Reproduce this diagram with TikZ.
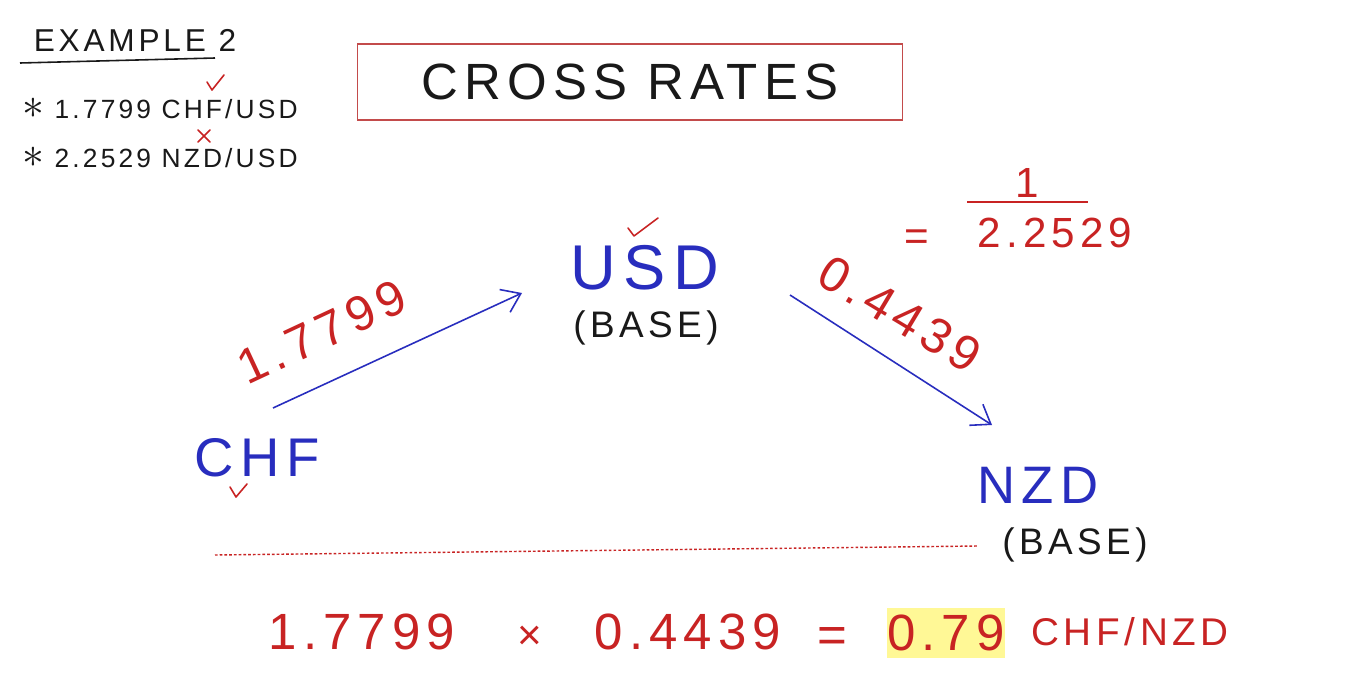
\documentclass[tikz,border=0pt]{standalone}
\usepackage{fontspec}
\setmainfont{Liberation Sans}
\newfontfamily\handfont[LetterSpace=12]{Liberation Sans}
\usetikzlibrary{arrows.meta}
\definecolor{ink}{RGB}{25,25,25}
\definecolor{pen}{RGB}{200,35,35}
\definecolor{cur}{RGB}{40,45,190}
\definecolor{frame}{RGB}{195,75,75}
\definecolor{marker}{RGB}{255,248,150}
\newcommand{\fs}[1]{\handfont\fontsize{#1}{#1}\selectfont}
\newcommand{\bullstar}{{\fontsize{24}{24}\selectfont$\ast$}}

\begin{document}
\begin{tikzpicture}[
  x=0.2mm,y=-0.2mm,
  hand/.style={inner sep=0pt,anchor=center},
  note/.style={hand,text=ink,font=\fs{15},anchor=west},
  ccy/.style={hand,text=cur},
  rate/.style={hand,text=pen},
  base/.style={hand,text=ink,font=\fs{21}},
  arr/.style={-{Straight Barb[length=3.5mm,width=5mm]},cur,line width=0.9pt},
  tick/.style={pen,line width=0.9pt,line cap=round,line join=round}]
  \useasboundingbox[fill=white] (0,0) rectangle (1358,698);
  % heading and given quotes
  \node[hand,text=ink,font=\fs{18}] (ex) at (135,40) {EXAMPLE 2};
  \draw[ink,line width=0.9pt] (20,63) -- (215,58);
  \node[note] (q1) at (22,108) {\bullstar\ 1.7799 CHF/USD};
  \node[note] (q2) at (22,157) {\bullstar\ 2.2529 NZD/USD};
  \draw[tick] (207,82) -- (212,90) -- (224,75);
  \draw[tick] (198,130) -- (210,142) (210,130) -- (198,142);
  \node[draw=frame,line width=1pt,minimum width=109mm,minimum height=15.2mm,hand,
    text=ink,font=\fs{29}] (title) at (630,82) {CROSS RATES};
  % currencies
  \node[ccy,font=\fs{36}] (usd) at (645,268) {USD};
  \node[base] (usdb) at (646,328) {(BASE)};
  \draw[tick] (628,228) -- (634,236) -- (658,218);
  \node[ccy,font=\fs{31}] (chf) at (257,458) {CHF};
  \draw[tick] (230,487) -- (236,497) -- (247,484);
  \node[ccy,font=\fs{30}] (nzd) at (1038,485) {NZD};
  \node[base] (nzdb) at (1075,545) {(BASE)};
  % rates along the arrows
  \coordinate (chfout) at (273,408);
  \coordinate (usdin) at (522,293);
  \coordinate (usdout) at (790,295);
  \coordinate (nzdin) at (992,425);
  \draw[arr] (chfout) -- (usdin);
  \draw[arr] (usdout) -- (nzdin);
  \node[rate,font=\fs{28},rotate=25] (r1) at (322,332) {1.7799};
  \node[rate,font=\fs{28},rotate=-31] (r2) at (900,314) {0.4439};
  \node[rate,font=\fs{24}] (eq1) at (917,240) {=};
  \node[rate,font=\fs{24}] (one) at (1027,183) {1};
  \draw[pen,line width=1pt] (967,202) -- (1088,202);
  \node[rate,font=\fs{24}] (inv) at (1055,233) {2.2529};
  \draw[pen,line width=0.8pt,dash pattern=on 1.5pt off 1.2pt] (215,555) -- (978,546);
  % result
  \node[rate,font=\fs{29}] (m1) at (362,632) {1.7799};
  \node[rate,font=\fs{24}] (times) at (530,638) {×};
  \node[rate,font=\fs{29}] (m2) at (688,632) {0.4439};
  \node[rate,font=\fs{29}] (eq2) at (832,640) {=};
  \node[rate,font=\fs{29},fill=marker,minimum width=23.4mm,minimum height=10mm] (res) at (946,633) {0.79};
  \node[rate,font=\fs{22}] (pair) at (1130,632) {CHF/NZD};
\end{tikzpicture}
\end{document}
